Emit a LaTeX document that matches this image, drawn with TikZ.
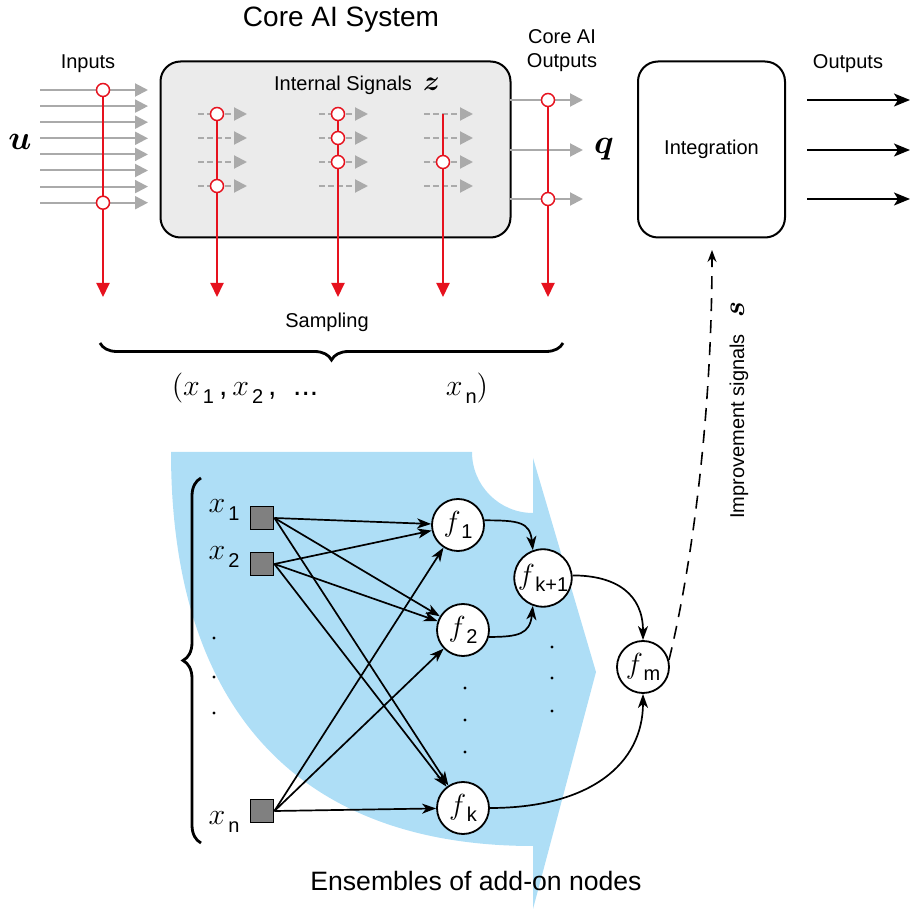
\RequirePackage{fix-cm}
\documentclass[tikz,border=0pt]{standalone}
\usepackage{amsmath}
\usepackage{fontspec}
\setmainfont{Liberation Sans}
\usetikzlibrary{arrows.meta, positioning, decorations.pathreplacing}

\definecolor{probered}{RGB}{230,18,30}
\definecolor{signalgray}{RGB}{170,170,170}
\definecolor{corefill}{RGB}{235,235,235}
\definecolor{ensembleblue}{RGB}{174,222,246}
\definecolor{featgray}{RGB}{128,128,128}

\newcommand{\fsub}[1]{$f$\kern0.3pt\raisebox{-0.5ex}{\fontsize{10}{12}\selectfont #1}}
\newcommand{\xsub}[1]{$x$\kern1.5pt\raisebox{-0.5ex}{\fontsize{10}{12}\selectfont #1}}

\begin{document}
\begin{tikzpicture}[x=0.5pt, y=-0.5pt,
    lbl/.style={font=\fontsize{10}{12}\selectfont},
    big/.style={font=\fontsize{14}{17}\selectfont},
    bold/.style={font=\fontsize{17}{19}\selectfont},
    sysbox/.style={shape=rectangle, draw=black, line width=1pt, rounded corners=10pt},
    sig/.style={signalgray, line width=1pt, -{Triangle[length=6.5pt, width=6.5pt]}},
    isig/.style={sig, dash pattern=on 3pt off 1.5pt},
    probe/.style={probered, line width=1pt, -{Triangle[length=7pt, width=6.5pt]}},
    tap/.style={shape=circle, draw=probered, fill=white, line width=0.75pt, inner sep=0pt, minimum size=6.5pt},
    feat/.style={shape=rectangle, draw=black, fill=featgray, line width=0.9pt, minimum size=11.5pt, inner sep=0pt},
    fnode/.style={shape=circle, draw=black, fill=white, line width=0.9pt, minimum size=26pt, inner sep=0pt, font=\fontsize{14.5}{16}\selectfont},
    xlab/.style={font=\fontsize{15}{17}\selectfont},
    dotn/.style={shape=circle, fill=black, inner sep=0pt, minimum size=1.7pt},
    wire/.style={line width=0.85pt, -{Stealth[length=7pt, width=5pt, inset=2pt]}},
    outarr/.style={line width=0.9pt, -{Stealth[length=8pt, width=6.5pt, inset=2pt]}},
    feedback/.style={line width=0.8pt, dash pattern=on 6.5pt off 4.5pt, -{Stealth[length=6pt, width=4.5pt, inset=2pt]}},
]
\useasboundingbox (0,0) rectangle (912,909);

% ensemble region
\fill[ensembleblue] (171,452) -- (472,452) arc[start angle=180, end angle=90, radius=61]
    -- (533,458) -- (596,672) -- (533,909) -- (533,846)
    .. controls (298,846) and (171,708) .. cycle;

% core AI system
\node[big] (title) at (341,20) {Core AI System};
\node[sysbox, fill=corefill, minimum width=175pt, minimum height=88pt] (core) at (335.5,149.5) {};
\node[lbl] (zlab) at (357,85) {Internal Signals \ {\fontsize{14}{16}\selectfont$\boldsymbol{z}$}};

\node[lbl] (inlab) at (88,64) {Inputs};
\node[bold] (ulab) at (20,142) {$\boldsymbol{u}$};
\foreach \k in {0,...,7}
    \draw[sig] (40,90+16.1*\k) coordinate (u\k) -- (148,90+16.1*\k) coordinate (ue\k);

\foreach \g/\xa in {1/198, 2/319, 3/424}
    \foreach \r in {0,...,3}
        \draw[isig] (\xa,114+24*\r) coordinate (z\g\r) -- ++(49,0);

\foreach \k/\yq in {1/100, 2/150, 3/199}
    \draw[sig] (510,\yq) coordinate (q\k) -- (583,\yq) coordinate (qe\k);
\node[lbl, align=center] (qout) at (562,51) {Core AI\\Outputs};
\node[bold] (qlab) at (604,149) {$\boldsymbol{q}$};

% sampling
\coordinate (s0) at (103,297);
\coordinate (s1) at (217,297);
\coordinate (s2) at (338,297);
\coordinate (s3) at (443,297);
\coordinate (s4) at (548,297);
\foreach \c/\top in {s0/u0, s1/z10, s2/z20, s3/z30, s4/q1}
    \draw[probe] (\top -| \c) -- (\c);
\foreach \c/\row [count=\i] in {s0/u0, s0/u7, s1/z10, s1/z13, s2/z20, s2/z21, s2/z22, s3/z32, s4/q1, s4/q3}
    \node[tap] (tap\i) at (\row -| \c) {};

\node[lbl] (samp) at (327,322) {Sampling};
\draw[decorate, decoration={brace, mirror, amplitude=8.5pt}, line width=1.4pt]
    (100,343) coordinate (b0) -- (563,343) coordinate (b1);
\node[xlab] (xseq) at (245,388) {$($\xsub{1}\,,\,\xsub{2}\,,\ \ ...};
\node[xlab] (xlast) at (467,388) {\xsub{n}$)$};

% integration
\node[sysbox, fill=white, minimum width=73.5pt, minimum height=88pt, lbl] (integ) at (711.5,149.5) {Integration};
\node[lbl] (outlab) at (848,64) {Outputs};
\foreach \k/\yo in {1/100, 2/150, 3/199}
    \draw[outarr] (807,\yo) coordinate (o\k) -- (910,\yo) coordinate (oe\k);

% add-on network
\draw[decorate, decoration={brace, amplitude=9pt}, line width=1.4pt]
    (201,843) coordinate (c0) -- (201,478) coordinate (c1);
\node[xlab] (x1lab) at (224,510) {\xsub{1}};
\node[xlab] (x2lab) at (224,557) {\xsub{2}};
\node[xlab] (xnlab) at (224,822) {\xsub{n}};
\foreach \yd [count=\i] in {638,677,713}
    \node[dotn] (dl\i) at (214,\yd) {};

\node[feat] (x1) at (262,518) {};
\node[feat] (x2) at (262,564) {};
\node[feat] (xn) at (262,811) {};

\node[fnode] (f1) at (458,525) {\fsub{1}};
\node[fnode] (f2) at (463,630) {\fsub{2}};
\node[fnode] (fk) at (463,808) {\fsub{k}};
\node[fnode] (fk1) at (543,578) {\fsub{k+1}};
\node[fnode] (fm) at (643,667) {\fsub{m}};

\foreach \yd [count=\i] in {688,720,752}
    \node[dotn] (dm\i) at (465,\yd) {};
\foreach \yd [count=\i] in {647,678,711}
    \node[dotn] (dr\i) at (552,\yd) {};

\foreach \s in {x1,x2,xn}
    \foreach \t in {f1,f2,fk}
        \draw[wire] (\s.east) -- (\t);

\draw[wire] (f1.10) .. controls +(35,0) and +(-3,-28) .. (fk1.110);
\draw[wire] (f2.-15) .. controls +(30,0) and +(-3,28) .. (fk1.-110);
\draw[wire] (fk1.5) .. controls +(45,0) and +(0,-45) .. (fm.north);
\draw[wire] (fk.east) .. controls +(100,0) and +(0,70) .. (fm.south);

\coordinate (sin) at (712,250);
\draw[feedback] (fm.15) .. controls +(22,-90) and +(0,170) .. (sin);
\node[lbl, rotate=90] (impr) at (739,410) {Improvement signals \ \ {\fontsize{15}{17}\selectfont$\boldsymbol{s}$}};

\node[font=\fontsize{13.3}{16}\selectfont] (ens) at (476,881) {Ensembles of add-on nodes};
\end{tikzpicture}
\end{document}
